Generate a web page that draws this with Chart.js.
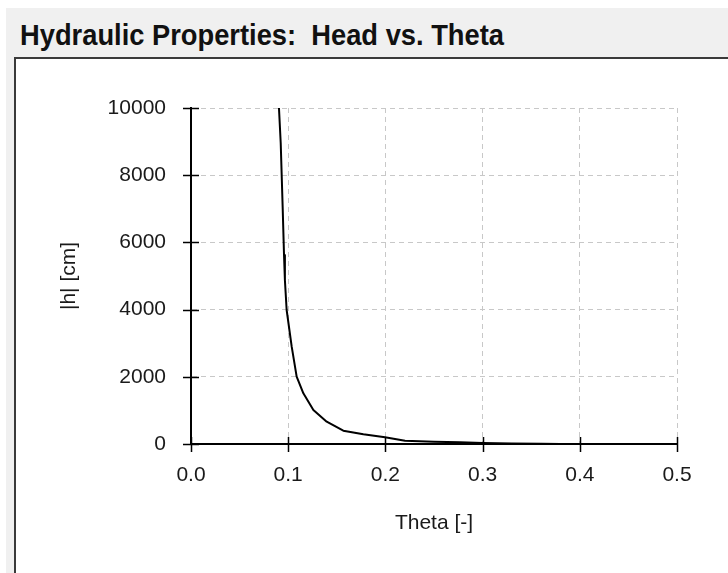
<!DOCTYPE html>
<html>
<head>
<meta charset="utf-8">
<script src="https://cdn.jsdelivr.net/npm/chart.js@4.4.1/dist/chart.umd.min.js"></script>
<style>
  html, body { margin: 0; padding: 0; background: #ffffff; width: 728px; height: 573px; overflow: hidden; }
  #bg { position: absolute; left: 6px; top: 8px; right: 0; bottom: 0; background: #f0f0f0; }
  #title { position: absolute; left: 20px; top: 20px; font: bold 30px "Liberation Sans", Arial, sans-serif; line-height: 30px; color: #111; white-space: pre; transform: scaleX(0.91); transform-origin: 0 0; }
  #panel { position: absolute; left: 14px; top: 57px; right: 0; bottom: 0; background: #ffffff; border-left: 2px solid #3a3a3a; border-top: 2px solid #3a3a3a; }
  #c { position: absolute; left: 0; top: 0; }
</style>
</head>
<body>
<div id="bg"></div>
<div id="title"></div>
<div id="panel"></div>
<canvas id="c" width="728" height="573"></canvas>
<script>
// Data
const thetaValues = [0.0905, 0.0923, 0.0943, 0.0957, 0.0966, 0.0984, 0.1036, 0.1087, 0.1156, 0.1259, 0.1396, 0.1567, 0.1773, 0.1996, 0.2202, 0.2500, 0.2767, 0.3000, 0.3300, 0.3600, 0.3800, 0.4000];
const headValues  = [10000, 8958, 7054, 5625, 4881, 3988, 2897, 2004, 1508, 1012, 665, 397, 288, 198, 99, 70, 50, 30, 15, 6, 2, 0];
const xTickValues = [0.0, 0.1, 0.2, 0.3, 0.4, 0.5];
const yTickValues = [0, 2000, 4000, 6000, 8000, 10000];
const chartTitle = "Hydraulic Properties:  Head vs. Theta";
const xAxisTitle = "Theta [-]";
const yAxisTitle = "|h| [cm]";

document.getElementById('title').textContent = chartTitle;

Chart.defaults.font.family = '"Liberation Sans", Arial, sans-serif';
Chart.defaults.color = '#1a1a1a';

const points = thetaValues.map((t, i) => ({ x: t, y: headValues[i] }));

const crossTicks = {
  id: 'crossTicks',
  afterDraw(chart) {
    const ctx = chart.ctx;
    const xs = chart.scales.x, ys = chart.scales.y;
    const area = chart.chartArea;
    ctx.save();
    ctx.strokeStyle = '#000';
    ctx.lineWidth = 1.5;
    ctx.beginPath();
    xs.ticks.forEach((t, i) => {
      const px = Math.round(xs.getPixelForTick(i)) + 0.5;
      ctx.moveTo(px, area.bottom - 7);
      ctx.lineTo(px, area.bottom + 8);
    });
    ys.ticks.forEach((t, i) => {
      const py = Math.round(ys.getPixelForTick(i)) + 0.5;
      ctx.moveTo(area.left - 8, py);
      ctx.lineTo(area.left + 8, py);
    });
    ctx.stroke();
    ctx.restore();
  }
};

new Chart(document.getElementById('c'), {
  type: 'scatter',
  data: {
    datasets: [{
      data: points,
      showLine: true,
      borderColor: '#000',
      borderWidth: 2,
      borderJoinStyle: 'round',
      borderCapStyle: 'round',
      pointRadius: 0,
      tension: 0,
      fill: false
    }]
  },
  options: {
    responsive: false,
    animation: false,
    devicePixelRatio: 1,
    layout: { padding: { top: 108, right: 51, left: 0, bottom: 0 } },
    plugins: { legend: { display: false }, tooltip: { enabled: false }, title: { display: false } },
    scales: {
      x: {
        type: 'linear',
        min: 0, max: 0.5,
        afterBuildTicks(scale) { scale.ticks = xTickValues.map(v => ({ value: v })); },
        afterFit(scale) { scale.height = 129; },
        ticks: {
          font: { size: 21 },
          color: '#1a1a1a',
          padding: 19,
          maxRotation: 0,
          callback: (v) => Number(v).toFixed(1)
        },
        grid: { color: '#c8c8c8', lineWidth: 1, drawTicks: false },
        border: { display: true, color: '#000', width: 2, dash: [5, 4] },
        title: { display: true, text: xAxisTitle, font: { size: 21 }, color: '#1a1a1a', padding: { top: 0, bottom: 37 } }
      },
      y: {
        type: 'linear',
        min: 0, max: 10000,
        afterBuildTicks(scale) { scale.ticks = yTickValues.map(v => ({ value: v })); },
        afterFit(scale) { scale.width = 191; },
        ticks: {
          font: { size: 21 },
          color: '#1a1a1a',
          padding: 25,
          callback: (v) => String(v)
        },
        grid: { color: '#c8c8c8', lineWidth: 1, drawTicks: false },
        border: { display: true, color: '#000', width: 2, dash: [5, 4] },
        title: { display: true, text: yAxisTitle, font: { size: 21 }, color: '#1a1a1a', padding: { top: 57, bottom: 0 } }
      }
    }
  },
  plugins: [crossTicks]
});
</script>
</body>
</html>
